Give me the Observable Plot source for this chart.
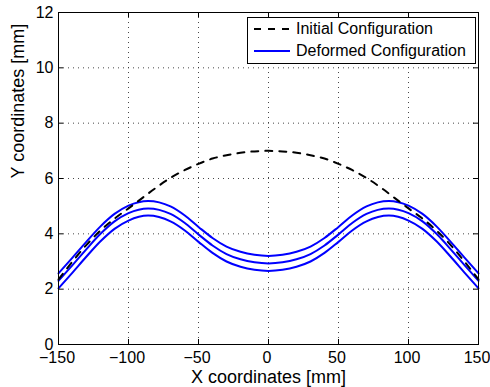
<!DOCTYPE html>
<html>
<head>
<meta charset="utf-8">
<script src="https://cdn.jsdelivr.net/npm/d3@7"></script>
<script src="https://cdn.jsdelivr.net/npm/@observablehq/plot@0.6"></script>
<style>
  body { margin: 0; background: #fff; }
  #wrap { position: relative; width: 490px; height: 387px; font-family: "Liberation Sans", Arial, sans-serif; }
  #legend { position: absolute; left: 247px; top: 17px; width: 227px; height: 45px; border: 1px solid #000; background: #fff; font-size: 16px; }
  .row { display: flex; align-items: center; height: 22px; }
  .row svg { margin-left: 6px; margin-right: 6px; }
</style>
</head>
<body>
<div id="wrap"></div>
<script>
// ---- data ----
const xTicks = [-150, -100, -50, 0, 50, 100, 150];
const yTicks = [0, 2, 4, 6, 8, 10, 12];

const initX = [-150,-140,-130,-120,-110,-100,-90,-80,-70,-60,-50,-40,-30,-20,-10,0,10,20,30,40,50,60,70,80,90,100,110,120,130,140,150];
const initY = [2.35,3.0,3.6,4.12,4.55,4.92,5.3,5.68,6.02,6.3,6.53,6.72,6.84,6.93,6.98,7.0,6.98,6.93,6.84,6.72,6.53,6.3,6.02,5.68,5.3,4.92,4.55,4.12,3.6,3.0,2.35];

const defX = [-150,-140,-130,-120,-110,-100,-86,-70,-60,-50,-40,-30,-20,-10,0,10,20,30,40,50,60,70,86,100,110,120,130,140,150];
const defTop = [2.57,3.14,3.72,4.27,4.72,5.02,5.19,4.99,4.67,4.25,3.85,3.54,3.35,3.24,3.20,3.24,3.35,3.54,3.85,4.25,4.67,4.99,5.19,5.02,4.72,4.27,3.72,3.14,2.57];
const defMid = [2.30,2.87,3.45,4.00,4.45,4.75,4.92,4.72,4.40,3.98,3.58,3.27,3.08,2.97,2.93,2.97,3.08,3.27,3.58,3.98,4.40,4.72,4.92,4.75,4.45,4.00,3.45,2.87,2.30];
const defBot = [2.03,2.60,3.18,3.73,4.18,4.48,4.66,4.45,4.13,3.71,3.31,3.00,2.81,2.70,2.66,2.70,2.81,3.00,3.31,3.71,4.13,4.45,4.66,4.48,4.18,3.73,3.18,2.60,2.03];

const legendLabels = ["Initial Configuration", "Deformed Configuration"];

// ---- build ----
const initial = initX.map((x, i) => ({x, y: initY[i]}));
const layers = [defTop, defMid, defBot].map(arr => defX.map((x, i) => ({x, y: arr[i]})));

const W = 490, H = 387, mL = 58, mR = 12, mT = 12, mB = 43;
const innerW = W - mL - mR, innerH = H - mT - mB;
const tickLen = 5;
const grid = {stroke: "#333", strokeOpacity: 0.9, strokeWidth: 1, strokeDasharray: "1,4"};

const chart = Plot.plot({
  width: W, height: H,
  marginLeft: mL, marginRight: mR, marginTop: mT, marginBottom: mB,
  style: {fontFamily: "'Liberation Sans', Arial, sans-serif", fontSize: "16px", color: "#000", background: "#fff"},
  x: {domain: [-150, 150]},
  y: {domain: [0, 12]},
  marks: [
    Plot.gridX(xTicks, grid),
    Plot.gridY(yTicks, grid),
    ...layers.map(d => Plot.line(d, {x: "x", y: "y", stroke: "#0000ff", strokeWidth: 2, curve: "monotone-x"})),
    Plot.line(initial, {x: "x", y: "y", stroke: "#000", strokeWidth: 2, strokeDasharray: "7,7", curve: "monotone-x"}),
    Plot.frame({stroke: "#000", strokeWidth: 1}),
    Plot.ruleX(xTicks, {stroke: "#000", insetTop: innerH - tickLen}),
    Plot.ruleX(xTicks, {stroke: "#000", insetBottom: innerH - tickLen}),
    Plot.ruleY(yTicks, {stroke: "#000", insetRight: innerW - tickLen}),
    Plot.ruleY(yTicks, {stroke: "#000", insetLeft: innerW - tickLen}),
    Plot.axisX({ticks: xTicks, tickSize: 0, tickPadding: 7, fontSize: 16, dx: -1.5, label: null}),
    Plot.axisY({ticks: yTicks, tickSize: 0, tickPadding: 5, fontSize: 16, label: null}),
    Plot.text(["X coordinates [mm]"], {frameAnchor: "bottom", dy: 33, fontSize: 18, lineAnchor: "middle"}),
    Plot.text(["Y coordinates [mm]"], {frameAnchor: "left", dx: -40, rotate: -90, fontSize: 18, lineAnchor: "middle"})
  ]
});

const wrap = document.getElementById("wrap");
wrap.appendChild(chart);

const legend = document.createElement("div");
legend.id = "legend";
const styles = [
  {stroke: "#000", dash: "7,7"},
  {stroke: "#0000ff", dash: null}
];
legendLabels.forEach((lab, i) => {
  const row = document.createElement("div");
  row.className = "row";
  const ns = "http://www.w3.org/2000/svg";
  const s = document.createElementNS(ns, "svg");
  s.setAttribute("width", "36"); s.setAttribute("height", "10");
  const l = document.createElementNS(ns, "line");
  l.setAttribute("x1", "0"); l.setAttribute("x2", "36");
  l.setAttribute("y1", "5"); l.setAttribute("y2", "5");
  l.setAttribute("stroke", styles[i].stroke);
  l.setAttribute("stroke-width", "2");
  if (styles[i].dash) l.setAttribute("stroke-dasharray", styles[i].dash);
  s.appendChild(l);
  row.appendChild(s);
  const t = document.createElement("span");
  t.textContent = lab;
  row.appendChild(t);
  legend.appendChild(row);
});
wrap.appendChild(legend);
</script>
</body>
</html>
